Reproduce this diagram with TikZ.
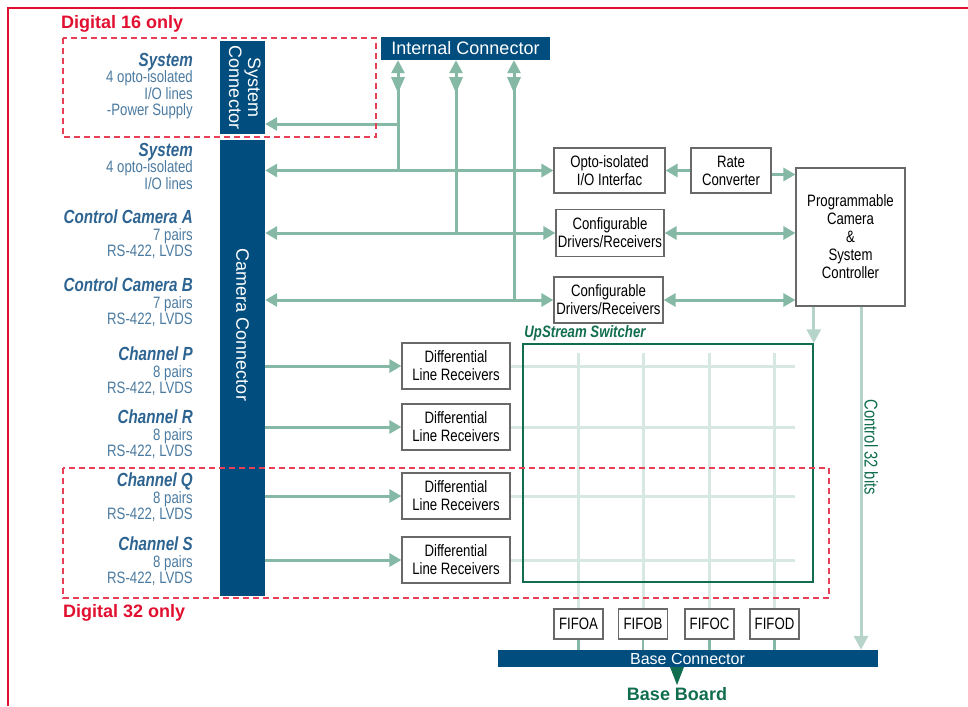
\documentclass[tikz,border=0pt]{standalone}
\usepackage{fontspec}
\setmainfont{Liberation Sans}
\newfontfamily\narrowsf{Liberation Sans}[FakeStretch=0.8]
\usetikzlibrary{arrows.meta,positioning}

\definecolor{barblue}{RGB}{0,77,126}
\definecolor{busgreen}{RGB}{134,184,166}
\definecolor{gridgreen}{RGB}{214,232,225}
\definecolor{ctlgreen}{RGB}{182,212,201}
\definecolor{swgreen}{RGB}{16,110,78}
\definecolor{lblblue}{RGB}{45,100,145}
\definecolor{txtblue}{RGB}{75,122,160}
\definecolor{digred}{RGB}{226,16,48}
\definecolor{dashred}{RGB}{232,62,86}
\definecolor{boxgray}{RGB}{105,105,105}

\newcommand\sidetitle[1]{{\color{lblblue}\fontsize{19pt}{16pt}\selectfont\bfseries\itshape #1}}

\tikzset{
  blk/.style={draw=boxgray, line width=1.2pt, fill=white, align=center, inner sep=1pt,
    font=\narrowsf\fontsize{16.5pt}{18pt}\selectfont},
  diffbox/.style={blk, minimum width=108pt, minimum height=46pt},
  fifobox/.style={blk, minimum width=49pt, minimum height=30pt},
  bar/.style={fill=barblue, text=white, inner sep=0pt, font=\fontsize{18pt}{19pt}\selectfont},
  bus/.style={draw=busgreen, line width=3pt},
  ctl/.style={draw=ctlgreen, line width=3pt},
  gridline/.style={draw=gridgreen, line width=3pt},
  zone/.style={draw=dashred, line width=1.5pt, dash pattern=on 6pt off 4pt},
  side/.style={align=right, anchor=north east, inner sep=0pt, text=txtblue,
    font=\narrowsf\fontsize{16.5pt}{16.3pt}\selectfont},
  digi/.style={anchor=west, inner sep=0pt, text=digred, font=\fontsize{18pt}{18pt}\selectfont\bfseries},
  bothway/.style={-{Triangle[reversed,length=16pt,width=13pt,sep=4pt]Triangle[length=13pt,width=13pt]}}
}

\begin{document}
\begin{tikzpicture}[x=1pt, y=-1pt, >={Triangle[length=12pt,width=13pt]}]
\useasboundingbox (0,0) rectangle (968,706);
\draw[digred, line width=2.5pt] (8,706) -- (8,8) -- (968,8);

% connectors on the left
\node[bar, minimum width=45pt, minimum height=93pt] (sysconn) at (242.5,87.5) {\rotatebox{-90}{\begin{tabular}{@{}c@{}}System\\Connector\end{tabular}}};
\node[bar, minimum width=45pt, minimum height=456pt] (camconn) at (242.5,368) {};
\node[bar, rotate=-90] (camlbl) at (242.5,325) {Camera Connector};
\node[bar, minimum width=169pt, minimum height=23pt] (intconn) at (465.5,48.5) {Internal Connector};

% side labels
\node[side] (lsys16) at (193,53) {\sidetitle{System}\\4 opto-isolated\\I/O lines\\-Power Supply};
\node[side] (lsys) at (193,143) {\sidetitle{System}\\4 opto-isolated\\I/O lines};
\node[side] (lcama) at (193,210) {\sidetitle{Control Camera A}\\7 pairs\\RS-422, LVDS};
\node[side] (lcamb) at (193,278) {\sidetitle{Control Camera B}\\7 pairs\\RS-422, LVDS};
\node[side] (lchp) at (193,347) {\sidetitle{Channel P}\\8 pairs\\RS-422, LVDS};
\node[side] (lchr) at (193,410) {\sidetitle{Channel R}\\8 pairs\\RS-422, LVDS};
\node[side] (lchq) at (193,473) {\sidetitle{Channel Q}\\8 pairs\\RS-422, LVDS};
\node[side] (lchs) at (193,537) {\sidetitle{Channel S}\\8 pairs\\RS-422, LVDS};

% blocks
\node[blk, minimum width=111pt, minimum height=45pt] (opto) at (609.5,170.5) {Opto-isolated\\I/O Interfac};
\node[blk, minimum width=80pt, minimum height=45pt] (rate) at (731,170.5) {Rate\\Converter};
\node[blk, minimum width=109pt, minimum height=138pt] (prog) at (850.5,237) {Programmable\\Camera\\\&\\System\\Controller};
\node[blk, minimum width=108pt, minimum height=47pt] (cfga) at (610,233) {Configurable\\Drivers/Receivers};
\node[blk, minimum width=109pt, minimum height=46pt] (cfgb) at (608.5,300) {Configurable\\Drivers/Receivers};
\foreach \n/\y in {1/366,2/427,3/496,4/560}
  \node[diffbox] (dr\n) at (456,\y) {Differential\\Line Receivers};
\foreach \n/\x in {A/578.5,B/643,C/709.5,D/774.5}
  \node[fifobox] (fifo\n) at (\x,624) {FIFO\n};
\node[bar, minimum width=380pt, minimum height=17pt, font=\fontsize{16pt}{17pt}\selectfont] (base) at (687.5,658.5) {Base Connector};

% switcher grid
\foreach \n in {1,...,4}
  \draw[gridline] (dr\n.east) -- (dr\n.east -| 795,0);
\foreach \n in {A,B,C,D} {
  \draw[gridline] (fifo\n.north |- 0,353) -- (fifo\n.north);
  \draw[bus, line width=2.5pt] (fifo\n.south) -- (fifo\n.south |- base.north);
}
\node[draw=swgreen, line width=1.5pt, minimum width=290pt, minimum height=238pt, inner sep=0pt] (sw) at (668,463) {};
\node[anchor=south west, inner sep=2pt, text=swgreen, font=\narrowsf\fontsize{16.5pt}{16pt}\selectfont\bfseries\itshape] (swlbl) at (sw.north west) {UpStream Switcher};

% buses
\coordinate (ja) at (398,170.5);
\coordinate (jb) at (456,233);
\coordinate (jc) at (514,300);
\coordinate (js) at (398,124);
\draw[bus,<->] (camconn.east |- opto.west) -- (opto.west);
\draw[bus,<->] (camconn.east |- cfga.west) -- (cfga.west);
\draw[bus,<->] (camconn.east |- cfgb.west) -- (cfgb.west);
\draw[bus,->] (js) -- (js -| sysconn.east);
\draw[bus,bothway] (ja) -- (ja |- intconn.south);
\draw[bus,bothway] (jb) -- (jb |- intconn.south);
\draw[bus,bothway] (jc) -- (jc |- intconn.south);
\draw[bus,->] (rate.west) -- (opto.east);
\draw[bus,->] ([yshift=-4pt]rate.east) -- ([yshift=-4pt]rate.east -| prog.west);
\draw[bus,<->] (cfga.east) -- (cfga.east -| prog.west);
\draw[bus,<->] (cfgb.east) -- (cfgb.east -| prog.west);
\foreach \n in {1,...,4}
  \draw[bus,->] (camconn.east |- dr\n.west) -- (dr\n.west);
\draw[ctl,-{Triangle[length=14pt,width=14pt]}] (sw.north east |- prog.south) -- (sw.north east);
\draw[ctl,-{Triangle[length=14pt,width=14pt]}] (prog.south -| 861,0) -- (base.north -| 861,0)
  node[pos=0.41, rotate=-90, anchor=south, inner sep=2pt, text=swgreen, font=\narrowsf\fontsize{18.5pt}{18pt}\selectfont] (ctllbl) {Control 32 bits};

% option zones
\draw[zone] (63,38) rectangle (376,137);
\draw[zone] (63,468) rectangle (829,598);
\node[digi] (dig16) at (61,24) {Digital 16 only};
\node[digi] (dig32) at (63,613) {Digital 32 only};

% base board
\fill[swgreen] (670,667) -- (684,667) -- (677,685) -- cycle;
\node[inner sep=0pt, text=swgreen, font=\fontsize{18pt}{18pt}\selectfont\bfseries] (board) at (677,694) {Base Board};
\end{tikzpicture}
\end{document}
